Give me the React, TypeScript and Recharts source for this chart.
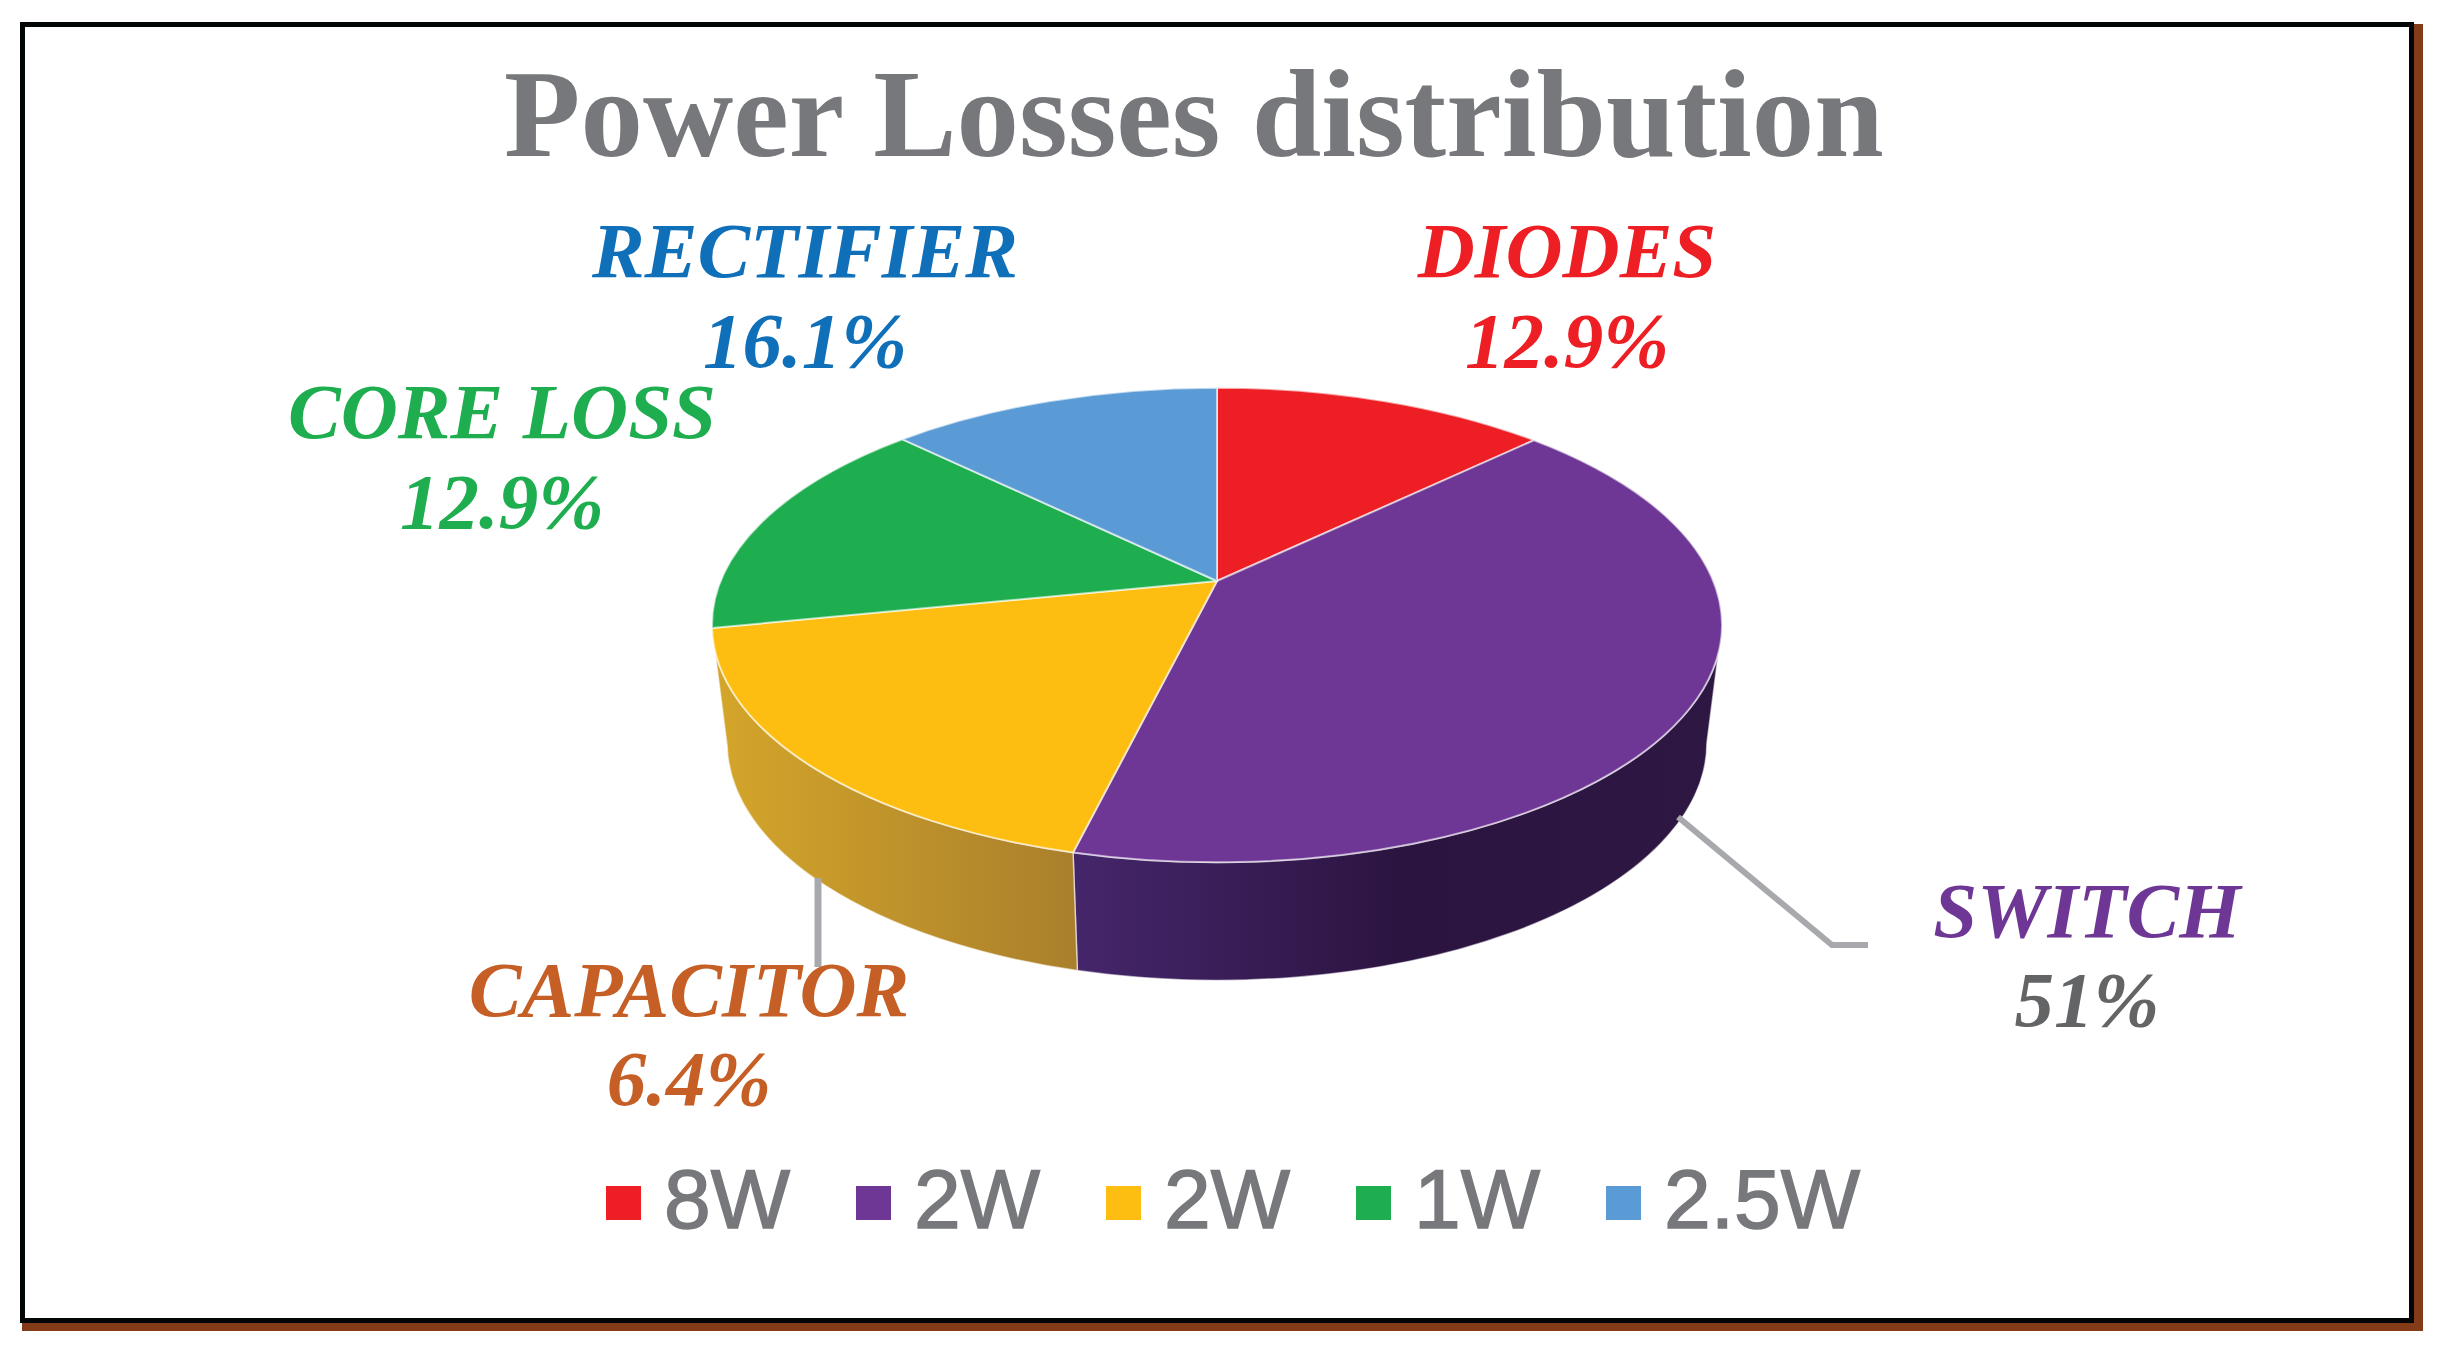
import { PieChart, Pie, Legend } from "recharts";

// slice shares as drawn on the tilted disc (% of the turn)
const sliceShares = [10.8, 43.8, 20.2, 14.5, 10.7];
const legendLabels = ["8W", "2W", "2W", "1W", "2.5W"];
const sliceColors = ["#ed1f24", "#6f3795", "#fdbe11", "#1fae4f", "#5b9bd5"];
const calloutNames = ["DIODES", "SWITCH", "CAPACITOR", "CORE LOSS", "RECTIFIER"];
const calloutPercents = ["12.9%", "51%", "6.4%", "12.9%", "16.1%"];
const calloutColors = ["#ed1f24", "#6f3795", "#c55f26", "#1fae4f", "#0f6fb8"];
const percentColors = ["#ed1f24", "#636466", "#c55f26", "#1fae4f", "#0f6fb8"];

const chartData = sliceShares.map((share, i) => ({
  name: legendLabels[i],
  value: share,
  fill: sliceColors[i],
}));

// layout of the callouts: [centre x, name baseline, percent baseline]
const calloutLayout = [
  [1567, 277, 367],
  [2087, 937, 1026],
  [689, 1016, 1105],
  [502, 438, 528],
  [805, 277, 367],
];

const SERIF = "'Liberation Serif', serif";
const SANS = "'Liberation Sans', sans-serif";
const RAD = Math.PI / 180;

// the disc is drawn in perspective: ellipses are tied to the pie's own radius
const TILT = 0.47;
const APEX_LIFT = 44;
const BOTTOM_DROP = 118;
const BOTTOM_SCALE = 0.97;

const wallFills = ["none", "url(#wallPurple)", "url(#wallYellow)", "none", "none"];

function arcPath(
  cx: number,
  cy: number,
  rx: number,
  ry: number,
  from: number,
  to: number,
  move: boolean
) {
  const x1 = cx + rx * Math.cos(from * RAD);
  const y1 = cy - ry * Math.sin(from * RAD);
  const x2 = cx + rx * Math.cos(to * RAD);
  const y2 = cy - ry * Math.sin(to * RAD);
  const large = Math.abs(from - to) > 180 ? 1 : 0;
  const sweep = from > to ? 1 : 0;
  return `${move ? "M" : "L"}${x1} ${y1} A${rx} ${ry} 0 ${large} ${sweep} ${x2} ${y2}`;
}

function TiltedSector(props: any) {
  const { cx, cy, outerRadius, startAngle, endAngle, fill, index } = props;
  const rx = outerRadius;
  const ry = outerRadius * TILT;

  // side wall only where the rim faces the viewer
  const wallFrom = Math.min(startAngle, 0);
  const wallTo = Math.max(endAngle, -180);
  const hasWall = wallFrom > wallTo && wallFills[index] !== "none";

  return (
    <g>
      {hasWall && (
        <path
          d={`${arcPath(cx, cy, rx, ry, wallFrom, wallTo, true)} ${arcPath(
            cx,
            cy + BOTTOM_DROP,
            rx * BOTTOM_SCALE,
            ry,
            wallTo,
            wallFrom,
            false
          )} Z`}
          fill={wallFills[index]}
          stroke="#ffffff"
          strokeOpacity={0.55}
          strokeWidth={1.5}
        />
      )}
      <path
        d={`M${cx} ${cy - APEX_LIFT} ${arcPath(cx, cy, rx, ry, startAngle, endAngle, false)} Z`}
        fill={fill}
        stroke="#ffffff"
        strokeOpacity={0.6}
        strokeWidth={2}
        strokeLinejoin="round"
      />
    </g>
  );
}

function renderCallout(props: any) {
  const i = props.index;
  const [x, nameY, percentY] = calloutLayout[i];
  return (
    <g key={calloutNames[i]}>
      {i === 1 && (
        <polyline
          points="1678,817 1832,945 1868,945"
          fill="none"
          stroke="#a7a9ac"
          strokeWidth={6}
        />
      )}
      {i === 2 && <line x1={818} y1={878} x2={818} y2={967} stroke="#a7a9ac" strokeWidth={7} />}
      <text
        x={x}
        y={nameY}
        textAnchor="middle"
        fontFamily={SERIF}
        fontWeight="bold"
        fontStyle="italic"
        fontSize={79}
        fill={calloutColors[i]}
      >
        {calloutNames[i]}
      </text>
      <text
        x={x}
        y={percentY}
        textAnchor="middle"
        fontFamily={SERIF}
        fontWeight="bold"
        fontStyle="italic"
        fontSize={79}
        fill={percentColors[i]}
      >
        {calloutPercents[i]}
      </text>
    </g>
  );
}

function renderLegend(props: any) {
  const items = props.payload || [];
  return (
    <div style={{ display: "flex" }}>
      {items.map((item: any, i: number) => (
        <div key={i} style={{ position: "relative", width: 250, height: 100 }}>
          <div
            style={{
              position: "absolute",
              left: 0,
              top: 26,
              width: 35,
              height: 34,
              background: item.payload?.fill ?? item.color,
            }}
          />
          <div
            style={{
              position: "absolute",
              left: 58,
              top: -9,
              fontFamily: SANS,
              fontSize: 84,
              lineHeight: "96px",
              color: "#77787b",
              whiteSpace: "nowrap",
              WebkitTextStroke: "1.5px #77787b",
            }}
          >
            {item.value}
          </div>
        </div>
      ))}
    </div>
  );
}

export default function App() {
  return (
    <div style={{ position: "absolute", left: 0, top: 0, width: 2450, height: 1363, background: "#fff" }}>
      <PieChart width={2450} height={1363} margin={{ top: 0, right: 0, bottom: 0, left: 0 }}>
        <defs>
          <linearGradient id="wallYellow" gradientUnits="userSpaceOnUse" x1={720} y1={0} x2={1080} y2={0}>
            <stop offset="0%" stopColor="#d4a52a" />
            <stop offset="100%" stopColor="#a97f2c" />
          </linearGradient>
          <linearGradient id="wallPurple" gradientUnits="userSpaceOnUse" x1={1075} y1={0} x2={1720} y2={0}>
            <stop offset="0%" stopColor="#45266b" />
            <stop offset="50%" stopColor="#2c1441" />
            <stop offset="100%" stopColor="#2e1742" />
          </linearGradient>
        </defs>
        <rect x={22} y={24} width={2401} height={1307} fill="#843c18" />
        <rect x={22.5} y={24.5} width={2389} height={1296} fill="#ffffff" stroke="#030607" strokeWidth={5} />
        <text
          x={1194}
          y={156}
          textAnchor="middle"
          fontFamily={SERIF}
          fontWeight="bold"
          fontSize={125}
          fill="#77787b"
        >
          Power Losses distribution
        </text>
        <Pie
          data={chartData}
          dataKey="value"
          nameKey="name"
          cx={1217}
          cy={625}
          innerRadius={0}
          outerRadius={505}
          startAngle={90}
          endAngle={-270}
          isAnimationActive={false}
          shape={TiltedSector}
          label={renderCallout}
          labelLine={false}
          stroke="none"
        />
        <Legend
          content={renderLegend}
          itemSorter={null}
          wrapperStyle={{ left: 606, top: 1160, width: 1300, bottom: "auto", right: "auto" }}
        />
      </PieChart>
    </div>
  );
}
